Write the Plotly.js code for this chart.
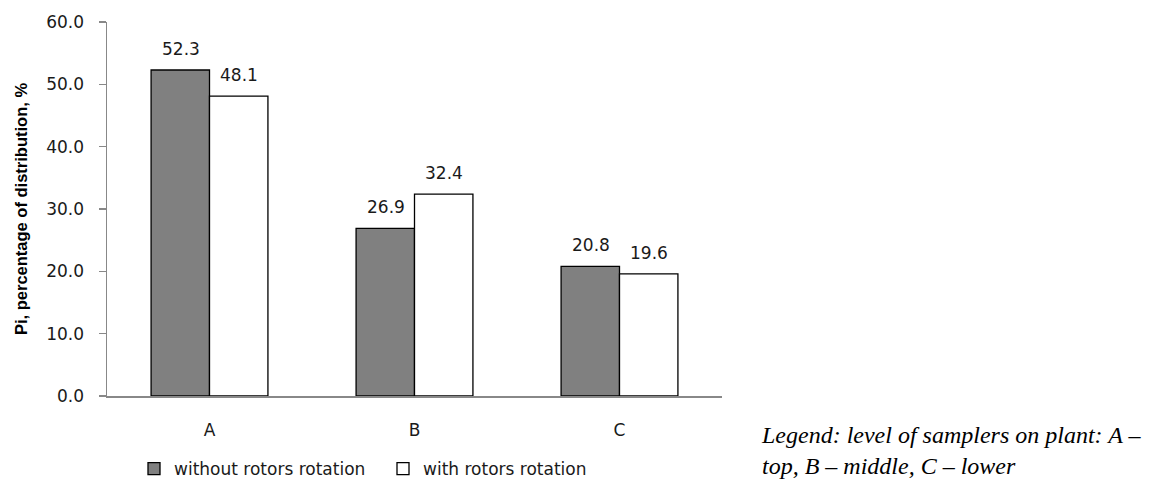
<!DOCTYPE html>
<html>
<head>
<meta charset="utf-8">
<script src="https://cdn.plot.ly/plotly-3.0.1.min.js"></script>
<style>html,body{margin:0;padding:0;background:#fff;}#chart{width:1150px;height:479px;}</style>
</head>
<body>
<div id="chart"></div>
<script>
const categories = ['A', 'B', 'C'];
const withoutRotation = [52.3, 26.9, 20.8];
const withRotation = [48.1, 32.4, 19.6];
const seriesNames = ['without rotors rotation', 'with rotors rotation'];
const yTickValues = [0, 10, 20, 30, 40, 50, 60];
const yTickLabels = ['0.0', '10.0', '20.0', '30.0', '40.0', '50.0', '60.0'];
const yTitle = 'Pi, percentage of distribution, %';
const noteText = 'Legend: level of samplers on plant: A \u2013<br>top, B \u2013 middle, C \u2013 lower';

const font = '"DejaVu Sans", Verdana, sans-serif';
const titleFont = '"Liberation Sans Narrow", "Arial Narrow", "Liberation Sans", Arial, sans-serif';

const traces = [
  {type: 'bar', name: seriesNames[0], x: categories, y: withoutRotation,
   marker: {color: '#808080', line: {color: '#000', width: 1.3}}},
  {type: 'bar', name: seriesNames[1], x: categories, y: withRotation,
   marker: {color: '#ffffff', line: {color: '#000', width: 1.3}}}
];

const annotations = [];
const series = [withoutRotation, withRotation];
series.forEach((vals, si) => {
  vals.forEach((v, i) => {
    annotations.push({
      x: categories[i], y: v, xref: 'x', yref: 'y',
      text: v.toFixed(1), showarrow: false,
      xshift: si === 0 ? -29 : 29, yanchor: 'bottom', yshift: 9,
      font: {family: font, size: 17, color: '#1a1a1a'}
    });
  });
});
annotations.push({
  xref: 'paper', yref: 'paper', x: (759 - 107) / 615, y: -0.063,
  xanchor: 'left', yanchor: 'top', align: 'left', showarrow: false,
  text: '<i>' + noteText + '</i>',
  font: {family: '"Liberation Serif", "Times New Roman", serif', size: 24, color: '#000'}
});

const layout = {
  width: 1150, height: 479,
  margin: {l: 107, r: 428, t: 22, b: 83, autoexpand: false},
  paper_bgcolor: '#fff', plot_bgcolor: '#fff',
  barmode: 'group', bargap: 0.43, bargroupgap: 0,
  font: {family: font, size: 17, color: '#1a1a1a'},
  xaxis: {
    type: 'category', showline: true, linecolor: '#888', linewidth: 1.5,
    ticks: '', showgrid: false, zeroline: false,
    ticklabelstandoff: 18, tickfont: {family: font, size: 17, color: '#1a1a1a'}
  },
  yaxis: {
    range: [0, 60], tickvals: yTickValues, ticktext: yTickLabels,
    showline: true, linecolor: '#888', linewidth: 1.5,
    ticks: 'outside', ticklen: 7, tickcolor: '#888', tickwidth: 1.5,
    showgrid: false, zeroline: false, ticklabelstandoff: 11,
    tickfont: {family: font, size: 17, color: '#1a1a1a'},
    title: {text: yTitle, standoff: 14, font: {family: titleFont, size: 16.5, color: '#000', weight: 'bold'}}
  },
  showlegend: true,
  legend: {
    orientation: 'h', x: (134 - 107) / 615, xanchor: 'left',
    y: -(469 - 396) / 374, yanchor: 'middle',
    font: {family: font, size: 17, color: '#1a1a1a'},
    itemwidth: 30, entrywidth: 204, traceorder: 'normal', bgcolor: 'rgba(0,0,0,0)'
  },
  annotations: annotations
};

Plotly.newPlot('chart', traces, layout, {displayModeBar: false, staticPlot: true});
</script>
</body>
</html>
